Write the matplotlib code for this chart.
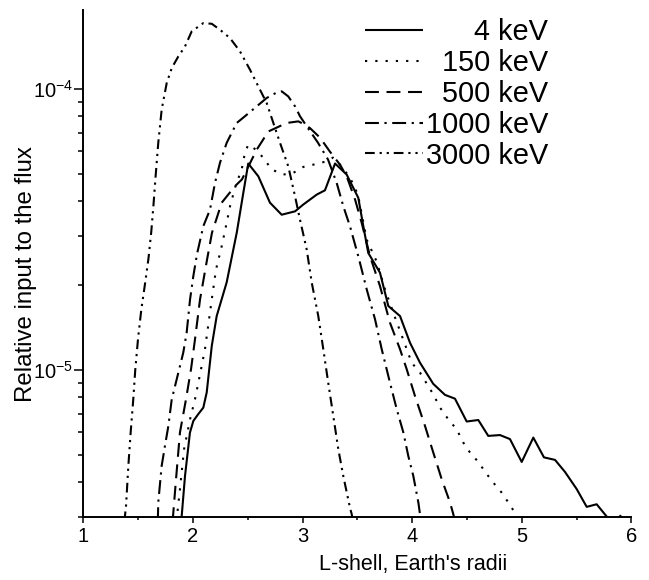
import matplotlib
matplotlib.use("Agg")
import matplotlib.pyplot as plt
from matplotlib.ticker import NullFormatter, MultipleLocator, LogLocator

plt.rcParams['font.family'] = ['Liberation Sans', 'DejaVu Sans']
plt.rcParams['mathtext.fontset'] = 'custom'
plt.rcParams['mathtext.rm'] = 'Liberation Sans'
plt.rcParams['mathtext.it'] = 'Liberation Sans:italic'
plt.rcParams['mathtext.bf'] = 'Liberation Sans:bold'
plt.rcParams['axes.unicode_minus'] = False
plt.rcParams['lines.scale_dashes'] = False

# ---------------- data ----------------
L_4 = [1.89, 1.898, 1.928, 1.973, 2.004, 2.049, 2.095, 2.126, 2.172, 2.217, 2.308, 2.400,
       2.460, 2.505, 2.597, 2.703, 2.810, 2.932, 3.007, 3.130, 3.205, 3.297, 3.403, 3.509,
       3.555, 3.600, 3.707, 3.783, 3.890, 3.981, 4.072, 4.193, 4.300, 4.391, 4.498, 4.604,
       4.695, 4.802, 4.893, 5.000, 5.106, 5.203, 5.304, 5.395, 5.502, 5.593, 5.684, 5.776,
       5.80, 5.85, 5.90, 5.95]
F_4 = [2.9e-6, 3.03e-6, 4.2e-6, 5.99e-6, 6.59e-6, 6.97e-6, 7.35e-6, 8.32e-6, 1.217e-5, 1.556e-5,
       2.05e-5, 3.08e-5, 4.27e-5, 5.43e-5, 4.89e-5, 3.94e-5, 3.57e-5, 3.67e-5, 3.88e-5, 4.21e-5,
       4.36e-5, 5.43e-5, 4.96e-5, 4.10e-5, 3.25e-5, 2.61e-5, 2.22e-5, 1.69e-5, 1.556e-5, 1.25e-5,
       1.062e-5, 8.93e-6, 8.16e-6, 7.91e-6, 6.56e-6, 6.64e-6, 5.83e-6, 5.87e-6, 5.68e-6, 4.71e-6,
       5.75e-6, 4.89e-6, 4.79e-6, 4.34e-6, 3.77e-6, 3.26e-6, 3.33e-6, 3.01e-6,
       2.9e-6, 2.85e-6, 3.03e-6, 2.85e-6]

L_150 = [1.85, 1.882, 1.919, 1.974, 2.019, 2.065, 2.110, 2.172, 2.211, 2.263, 2.308, 2.339,
         2.393, 2.445, 2.475, 2.505, 2.576, 2.642, 2.719, 2.825, 2.916, 3.007, 3.099, 3.221,
         3.278, 3.342, 3.433, 3.506, 3.586, 3.677, 3.753, 3.844, 3.935, 3.996, 4.072, 4.193,
         4.255, 4.330, 4.407, 4.467, 4.528, 4.604, 4.674, 4.747, 4.818, 4.869, 4.933, 4.966]
F_150 = [2.9e-6, 3.77e-6, 5.22e-6, 6.68e-6, 7.87e-6, 9.66e-6, 1.185e-5, 1.783e-5, 2.28e-5, 2.76e-5,
         3.34e-5, 3.83e-5, 4.57e-5, 5.17e-5, 5.93e-5, 6.34e-5, 6.08e-5, 5.69e-5, 5.17e-5, 4.96e-5,
         5.03e-5, 5.28e-5, 5.38e-5, 5.53e-5, 5.7e-5, 5.38e-5, 4.84e-5, 4.21e-5, 2.91e-5, 2.43e-5,
         1.936e-5, 1.539e-5, 1.234e-5, 1.062e-5, 9.79e-6, 8.2e-6, 7.35e-6, 6.68e-6, 6.15e-6, 5.52e-6,
         5.09e-6, 4.71e-6, 4.3e-6, 3.95e-6, 3.66e-6, 3.42e-6, 3.13e-6, 2.9e-6]

L_500 = [1.815, 1.846, 1.882, 1.937, 1.983, 2.019, 2.065, 2.129, 2.174, 2.263, 2.384, 2.448,
         2.582, 2.688, 2.856, 2.962, 3.023, 3.068, 3.160, 3.251, 3.342, 3.403, 3.479, 3.540,
         3.616, 3.707, 3.798, 3.890, 3.951, 4.026, 4.118, 4.193, 4.270, 4.346, 4.376, 4.39]
F_500 = [2.9e-6, 4.09e-6, 6.0e-6, 7.87e-6, 1.008e-5, 1.285e-5, 1.783e-5, 2.47e-5, 3.08e-5, 3.94e-5,
         4.51e-5, 4.77e-5, 6.08e-5, 7.06e-5, 7.57e-5, 7.67e-5, 7.46e-5, 7.26e-5, 6.71e-5, 5.98e-5,
         5.38e-5, 4.89e-5, 4.05e-5, 3.34e-5, 2.54e-5, 1.99e-5, 1.474e-5, 1.185e-5, 1.006e-5, 8.09e-6,
         6.32e-6, 5.09e-6, 4.09e-6, 3.38e-6, 3.07e-6, 2.9e-6]

L_1000 = [1.68, 1.684, 1.715, 1.745, 1.776, 1.807, 1.837, 1.882, 1.912, 1.943, 1.974, 2.004,
          2.037, 2.095, 2.156, 2.202, 2.247, 2.308, 2.354, 2.400, 2.475, 2.582, 2.673, 2.765,
          2.810, 2.870, 2.932, 2.977, 3.041, 3.141, 3.233, 3.312, 3.372, 3.433, 3.509, 3.586,
          3.662, 3.723, 3.798, 3.860, 3.920, 3.965, 4.011, 4.057, 4.072, 4.085]
F_1000 = [2.9e-6, 3.38e-6, 4.56e-6, 5.37e-6, 6.32e-6, 7.87e-6, 8.77e-6, 1.033e-5, 1.153e-5, 1.358e-5,
          1.783e-5, 2.16e-5, 2.58e-5, 3.25e-5, 3.72e-5, 4.64e-5, 5.46e-5, 6.43e-5, 6.98e-5, 7.57e-5,
          8.0e-5, 8.67e-5, 9.29e-5, 9.72e-5, 9.81e-5, 9.41e-5, 8.67e-5, 8.0e-5, 7.34e-5, 6.44e-5,
          5.61e-5, 4.63e-5, 3.83e-5, 3.25e-5, 2.54e-5, 1.936e-5, 1.514e-5, 1.185e-5, 9.02e-6, 7.25e-6,
          6.0e-6, 4.95e-6, 4.2e-6, 3.38e-6, 3.07e-6, 2.9e-6]

L_3000 = [1.375, 1.390, 1.411, 1.432, 1.456, 1.474, 1.500, 1.530, 1.565, 1.595, 1.620, 1.640,
          1.658, 1.684, 1.715, 1.761, 1.807, 1.867, 1.928, 1.989, 2.095, 2.172, 2.247, 2.338,
          2.430, 2.521, 2.597, 2.673, 2.734, 2.795, 2.870, 2.932, 2.977, 3.038, 3.084, 3.144,
          3.190, 3.235, 3.281, 3.327, 3.372, 3.433, 3.449, 3.46]
F_3000 = [2.9e-6, 3.29e-6, 4.56e-6, 5.99e-6, 7.87e-6, 1.0e-5, 1.3e-5, 1.65e-5, 2.05e-5, 2.5e-5,
          3.1e-5, 3.85e-5, 4.8e-5, 6.43e-5, 8.44e-5, 1.05e-4, 1.187e-4, 1.306e-4, 1.417e-4, 1.603e-4,
          1.716e-4, 1.706e-4, 1.625e-4, 1.518e-4, 1.36e-4, 1.171e-4, 1.021e-4, 8.92e-5, 7.57e-5, 6.43e-5,
          5.31e-5, 4.15e-5, 3.43e-5, 2.69e-5, 2.05e-5, 1.556e-5, 1.184e-5, 9.0e-6, 6.86e-6, 5.22e-6,
          4.2e-6, 3.24e-6, 3.07e-6, 2.9e-6]

labels = ["\u2007\u2007\u20074 keV", "\u2007150 keV", "\u2007500 keV", "1000 keV", "3000 keV"]
x_ticks = [1, 2, 3, 4, 5, 6]
y_ticks = [1e-5, 1e-4]
y_ticklabels = [r'$\mathregular{10^{-5}}$', r'$\mathregular{10^{-4}}$']

# ---------------- figure ----------------
W, H = 649, 580
fig = plt.figure(figsize=(W / 100, H / 100), dpi=100)
ax = fig.add_axes([83.3 / W, 63 / H, 548 / W, 507 / H])

lw = 1.5
styles = [
    '-',
    (0, (1.6, 5.8)),
    (0, (10, 5.5)),
    (0, (10, 4, 1.6, 4)),
    (0, (7, 3.5, 1.6, 3.5, 1.6, 3.5)),
]
series = [(L_4, F_4), (L_150, F_150), (L_500, F_500), (L_1000, F_1000), (L_3000, F_3000)]
for (xs, ys), ls, lab in zip(series, styles, labels):
    ax.plot(xs, ys, color='black', lw=lw, linestyle=ls, label=lab,
            solid_capstyle='butt', dash_capstyle='butt')

ax.set_yscale('log')
ax.set_xlim(1, 6)
ax.set_ylim(3e-6, 1.91e-4)

ax.set_xticks(x_ticks)
ax.set_xticklabels([str(v) for v in x_ticks])
ax.xaxis.set_minor_locator(MultipleLocator(0.5))
ax.set_yticks(y_ticks)
ax.set_yticklabels(y_ticklabels)
ax.yaxis.set_minor_locator(LogLocator(base=10, subs=range(2, 10)))
ax.yaxis.set_minor_formatter(NullFormatter())

for s in ['top', 'right']:
    ax.spines[s].set_visible(False)
for s in ['left', 'bottom']:
    ax.spines[s].set_linewidth(1.4)

ax.tick_params(axis='x', which='major', direction='out', length=4, width=1.1, labelsize=14.5, pad=3)
ax.tick_params(axis='x', which='minor', direction='out', length=2.5, width=1.1)
ax.tick_params(axis='y', which='major', direction='out', length=6.5, width=1.1, labelsize=14.5, pad=1)
ax.tick_params(axis='y', which='minor', direction='out', length=3.6, width=1.1)

ax.set_xlabel("L-shell, Earth's radii", fontsize=15.5, x=0.602, labelpad=6)
ax.set_ylabel("Relative input to the flux", fontsize=17.3, y=0.48, labelpad=-3)

leg = ax.legend(loc='upper left', bbox_to_anchor=((365 - 83.3) / 548, (517 - 18) / 507),
                frameon=False, fontsize=20.8, handlelength=2.0, handletextpad=0.1,
                labelspacing=0.1, borderpad=0, borderaxespad=0)

fig.savefig('out.png', dpi=100)
